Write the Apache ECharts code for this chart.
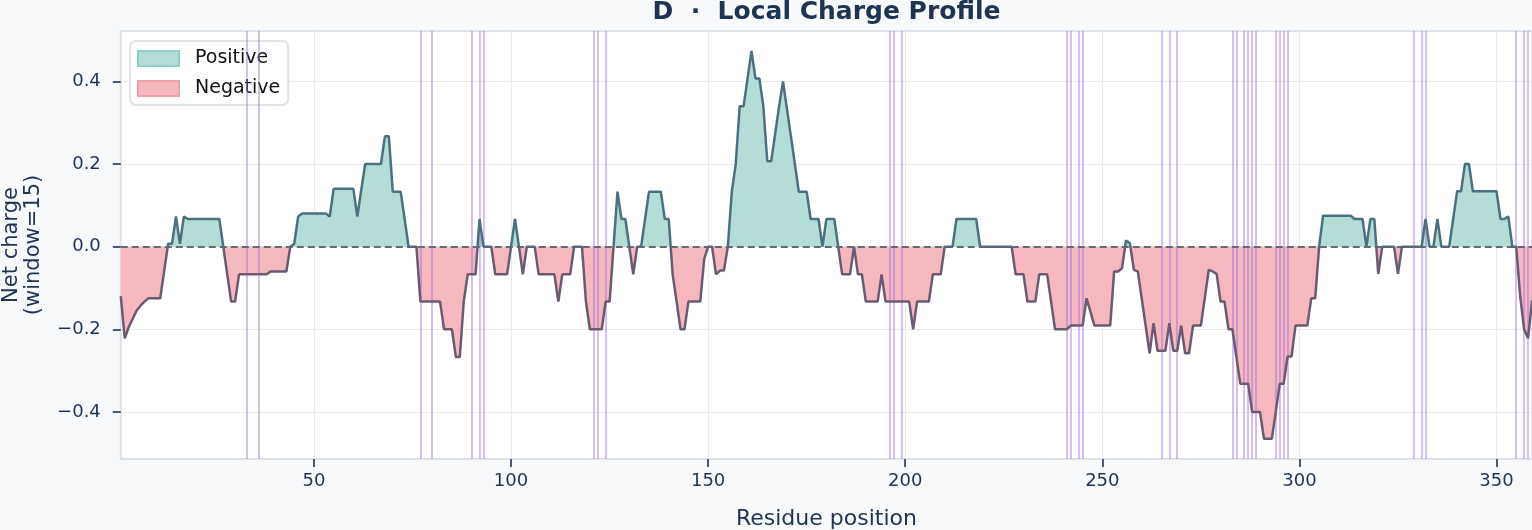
<!DOCTYPE html>
<html><head><meta charset="utf-8">
<script src="https://cdn.jsdelivr.net/npm/echarts@6/dist/echarts.min.js"></script>
<style>html,body{margin:0;padding:0;background:#f7f9fb;} #c{width:1532px;height:530px;}</style>
</head><body><div id="c"></div>
<script>
// Net charge (sliding window = 15) for residues 1..359
const netCharge = [
 -0.12,-0.222,-0.195,-0.175,-0.155,-0.143,-0.133,-0.125,-0.125,-0.125,
 -0.125,-0.06,0.007,0.007,0.073,0.007,0.073,0.067,0.067,0.067,
 0.067,0.067,0.067,0.067,0.067,0.067,0,-0.067,-0.133,-0.133,
 -0.067,-0.067,-0.067,-0.067,-0.067,-0.067,-0.067,-0.067,-0.06,-0.06,
 -0.06,-0.06,-0.06,0,0.007,0.073,0.08,0.08,0.08,0.08,
 0.08,0.08,0.08,0.073,0.14,0.14,0.14,0.14,0.14,0.14,
 0.073,0.137,0.2,0.2,0.2,0.2,0.2,0.267,0.267,0.133,
 0.133,0.133,0.067,0,0,0,-0.133,-0.133,-0.133,-0.133,
 -0.133,-0.133,-0.2,-0.2,-0.2,-0.267,-0.267,-0.133,-0.067,-0.067,
 -0.067,0.067,0,0,0,-0.067,-0.067,-0.067,-0.067,0,
 0.067,0,-0.067,0,0,0,-0.067,-0.067,-0.067,-0.067,
 -0.067,-0.133,-0.067,-0.067,-0.067,0,0,0,-0.133,-0.2,
 -0.2,-0.2,-0.2,-0.133,-0.133,0,0.133,0.067,0.067,0,
 -0.067,0,0,0.067,0.133,0.133,0.133,0.133,0.067,0.067,
 -0.067,-0.133,-0.2,-0.2,-0.133,-0.133,-0.133,-0.133,-0.03,0,
 0,-0.067,-0.058,-0.058,0,0.133,0.2,0.34,0.34,0.407,
 0.474,0.407,0.407,0.34,0.207,0.207,0.273,0.34,0.4,0.333,
 0.267,0.2,0.133,0.133,0.133,0.067,0.067,0.067,0,0.067,
 0.067,0.067,0,-0.067,-0.067,-0.067,0,-0.067,-0.067,-0.133,
 -0.133,-0.133,-0.133,-0.067,-0.133,-0.133,-0.133,-0.133,-0.133,-0.133,
 -0.133,-0.2,-0.133,-0.133,-0.133,-0.133,-0.067,-0.067,-0.067,0,
 0,0,0.067,0.067,0.067,0.067,0.067,0.067,0,0,
 0,0,0,0,0,0,0,-0.067,-0.067,-0.067,
 -0.133,-0.133,-0.133,-0.067,-0.067,-0.067,-0.133,-0.2,-0.2,-0.2,
 -0.2,-0.191,-0.191,-0.191,-0.191,-0.125,-0.158,-0.191,-0.191,-0.191,
 -0.191,-0.191,-0.06,-0.06,-0.052,0.015,0.008,-0.056,-0.06,-0.126,
 -0.192,-0.258,-0.185,-0.252,-0.252,-0.252,-0.185,-0.252,-0.252,-0.191,
 -0.258,-0.258,-0.191,-0.191,-0.191,-0.124,-0.056,-0.06,-0.066,-0.133,
 -0.133,-0.2,-0.2,-0.266,-0.332,-0.332,-0.332,-0.4,-0.4,-0.4,
 -0.465,-0.465,-0.465,-0.4,-0.332,-0.332,-0.266,-0.266,-0.191,-0.191,
 -0.191,-0.191,-0.125,-0.125,0,0.075,0.075,0.075,0.075,0.075,
 0.075,0.075,0.075,0.067,0.067,0.067,0,0.067,0.067,-0.066,
 0,0,0,0,-0.066,0,0,0,0,0,
 0,0.067,0,0,0.067,0,0,0,0.067,0.134,
 0.134,0.2,0.2,0.134,0.134,0.134,0.134,0.134,0.134,0.134,
 0.067,0.067,0.073,0,0,-0.12,-0.2,-0.222,-0.13
];
const residues = netCharge.map((v, i) => i + 1);
const variantSites = [33,36,77,80,90,92,93,121,122,124,196,197,199,241,242,244,245,265,267,269,283,284,286,287,288,289,294,295,296,297,329,331,332,355,357,358];
const xTicks = [50,100,150,200,250,300,350];
const yTicks = [-0.4,-0.2,0,0.2,0.4];
const legendNames = ['Positive','Negative'];

const FONT = '"DejaVu Sans", sans-serif';
const NAVY = '#1f3355';
const fillPos = '#b3ddd6', fillNeg = '#f5b8bf';
const linePos = '#4b7181', lineNeg = '#6a5a72';
const pts = residues.map((r, i) => [r, netCharge[i]]);

const chart = echarts.init(document.getElementById('c'), null, {renderer: 'canvas'});
chart.setOption({
  animation: false,
  backgroundColor: '#f7f9fb',
  graphic: [{
    type: 'text', x: 826.5, y: 12, z: 100,
    style: {text: 'D  \u00b7  Local Charge Profile', font: 'bold 25px ' + FONT, fill: NAVY,
            align: 'center', verticalAlign: 'middle', textAlign: 'center', textVerticalAlign: 'middle'}
  }],
  grid: {left: 120.8, right: 0, top: 31, bottom: 71, show: true, backgroundColor: '#ffffff',
         borderColor: '#dde1e8', borderWidth: 2, containLabel: false, outerBoundsMode: 'none'},
  legend: {
    data: legendNames, left: 130, top: 41, orient: 'vertical', icon: 'rect',
    itemWidth: 41, itemHeight: 15, itemGap: 11, padding: [8, 8, 7, 7],
    backgroundColor: '#ffffff', borderColor: '#dfe3e8', borderWidth: 2, borderRadius: 6,
    selectedMode: false,
    textStyle: {fontSize: 19, color: '#111111', fontFamily: FONT, padding: [0, 0, 0, 11]}
  },
  visualMap: [
    {type: 'piecewise', show: false, seriesIndex: 0, dimension: 1,
     pieces: [{gt: 0, lte: 1, color: fillPos}, {gte: -1, lte: 0, color: fillNeg}]},
    {type: 'piecewise', show: false, seriesIndex: 1, dimension: 1,
     pieces: [{gte: 0, lte: 1, color: linePos}, {gte: -1, lt: 0, color: lineNeg}]}
  ],
  xAxis: {
    type: 'value', min: 1, max: 359,
    name: 'Residue position', nameLocation: 'middle', nameGap: 49,
    nameTextStyle: {fontSize: 22, color: NAVY, fontFamily: FONT},
    axisLine: {show: false, onZero: false},
    axisTick: {show: true, customValues: xTicks, length: 8, lineStyle: {color: NAVY, width: 1.6}},
    axisLabel: {customValues: xTicks, fontSize: 18, color: NAVY, fontFamily: FONT, margin: 13},
    splitLine: {show: true, lineStyle: {color: '#ebebeb', width: 1}}
  },
  yAxis: {
    type: 'value', min: -0.514, max: 0.522,
    name: 'Net charge\n(window=15)', nameLocation: 'middle', nameGap: 76,
    nameTextStyle: {fontSize: 21, color: NAVY, fontFamily: FONT, lineHeight: 22},
    axisLine: {show: false, onZero: false},
    axisTick: {show: true, customValues: yTicks, length: 8, lineStyle: {color: NAVY, width: 1.6}},
    axisLabel: {customValues: yTicks, fontSize: 18, color: NAVY, fontFamily: FONT, margin: 20,
      formatter: v => (Math.abs(v) < 1e-9 ? '0.0' : v.toFixed(1).replace('-', '\u2212'))},
    splitLine: {show: true, lineStyle: {color: '#ebebeb', width: 1}}
  },
  series: [
    {type: 'line', name: 'fill', data: pts, symbol: 'none', z: 2, silent: true,
     lineStyle: {width: 0, opacity: 0}, areaStyle: {opacity: 1},
     markLine: {silent: true, symbol: ['none', 'none'], label: {show: false},
       lineStyle: {color: 'rgba(160,110,225,0.55)', width: 1.6, type: 'solid'},
       data: variantSites.map(x => ({xAxis: x}))}},
    {type: 'line', name: 'charge', data: pts, symbol: 'none', z: 6, silent: true,
     lineStyle: {width: 2.5},
     markLine: {silent: true, symbol: ['none', 'none'], label: {show: false},
       lineStyle: {color: '#666a70', width: 1.8, type: [7, 4]},
       data: [{yAxis: 0}]}},
    {type: 'bar', name: 'Positive', data: [], itemStyle: {color: fillPos, borderColor: '#8fd0c6', borderWidth: 1.5}},
    {type: 'bar', name: 'Negative', data: [], itemStyle: {color: fillNeg, borderColor: '#f0a0a9', borderWidth: 1.5}}
  ]
});
</script></body></html>
